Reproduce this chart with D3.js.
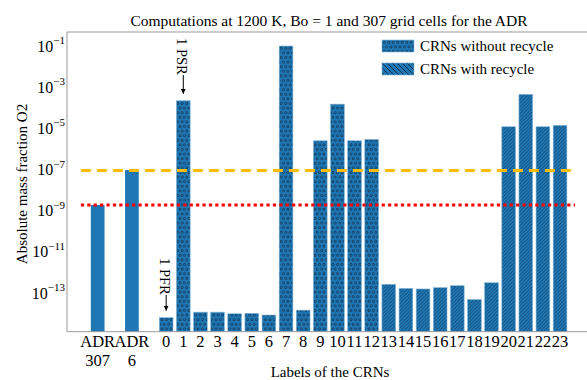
<!DOCTYPE html>
<html>
<head>
<meta charset="utf-8">
<script src="https://cdn.jsdelivr.net/npm/d3@7"></script>
<style>
  body { margin: 0; background: #fff; }
  text { font-family: "Liberation Serif", "DejaVu Serif", serif; }
</style>
</head>
<body>
<svg id="chart"></svg>
<script>
// bar data
var labels = ["ADR\n307", "ADR\n6", "0", "1", "2", "3", "4", "5", "6", "7", "8", "9", "10", "11", "12",
	"13", "14", "15", "16", "17", "18", "19", "20", "21", "22", "23"]
var positions = [-4, -2, 0, 1, 2, 3, 4, 5, 6, 7, 8, 9, 10, 11, 12, 13, 14, 15, 16, 17, 18, 19, 20, 21, 22, 23]
var values = [1.9e-9, 9.5e-8, 6.5e-15, 2.2e-4, 1.2e-14, 1.2e-14, 1.0e-14, 1.05e-14, 8.7e-15, 1.0e-1, 1.5e-14,
	2.5e-6, 1.5e-4, 2.5e-6, 2.9e-6, 2.7e-13, 1.7e-13, 1.6e-13, 1.85e-13, 2.3e-13, 4.9e-14, 3.2e-13,
	1.2e-5, 4.5e-4, 1.2e-5, 1.4e-5]
var kinds = ["adr", "adr", "without", "without", "without", "without", "without", "without", "without",
	"without", "without", "without", "without", "without", "without",
	"with", "with", "with", "with", "with", "with", "with", "with", "with", "with", "with"]
var yTicks = [-1, -3, -5, -7, -9, -11, -13]
var refLines = [{value: 9e-8, color: "#fbbc05", dash: "10,6"}, {value: 1.9e-9, color: "#ff0000", dash: "3.2,3.2"}]
var legendItems = [{label: "CRNs without recycle", kind: "without"}, {label: "CRNs with recycle", kind: "with"}]

var data = labels.map((l, i) => ({label: l, pos: positions[i], value: values[i], kind: kinds[i]}))

var width = 587
var height = 380
var margin = ({top: 32, left: 67, bottom: 331.7})

var x = d3.scaleLinear()
	.domain([-5.79, 24.79])
	.range([margin.left, 590.7])

var y = d3.scaleLog()
	.domain([Math.pow(10, -14.87), Math.pow(10, -0.32)])
	.range([margin.bottom, margin.top])

var barW = x(0.8) - x(0)
var blue = "#1f77b4"
var ink = "#10304d"

let svg = d3.select("#chart")
	.attr("width", width)
	.attr("height", height)
	.attr("viewBox", [0, 0, width, height])

// hatch patterns
var defs = svg.append("defs")
var dots = defs.append("pattern")
	.attr("id", "dots")
	.attr("patternUnits", "userSpaceOnUse")
	.attr("width", 9).attr("height", 9.2)
dots.append("rect").attr("width", 9).attr("height", 9.2).attr("fill", blue)
;[[2.25, 2.3], [6.75, 2.3], [0, 6.9], [4.5, 6.9], [9, 6.9]].forEach(c => {
	dots.append("circle")
		.attr("cx", c[0]).attr("cy", c[1]).attr("r", 1.1)
		.attr("fill", "none").attr("stroke", ink).attr("stroke-width", 0.8)
})

var diag = defs.append("pattern")
	.attr("id", "diag")
	.attr("patternUnits", "userSpaceOnUse")
	.attr("width", 3.5).attr("height", 3.5)
diag.append("rect").attr("width", 3.5).attr("height", 3.5).attr("fill", blue)
diag.append("path")
	.attr("d", "M-1,4.5 L4.5,-1 M-1,1 L1,-1 M2.5,4.5 L4.5,2.5")
	.attr("stroke", ink).attr("stroke-width", 0.6)

var back = defs.append("pattern")
	.attr("id", "back")
	.attr("patternUnits", "userSpaceOnUse")
	.attr("width", 5).attr("height", 5)
back.append("rect").attr("width", 5).attr("height", 5).attr("fill", blue)
back.append("path")
	.attr("d", "M-1,-1 L6,6 M-1,4 L1,6 M4,-1 L6,1")
	.attr("stroke", ink).attr("stroke-width", 1)

var fillFor = k => k === "without" ? "url(#dots)" : (k === "with" ? "url(#diag)" : blue)

// bars
svg.append("g")
	.selectAll("rect")
	.data(data)
	.join("rect")
	.attr("x", d => x(d.pos) - barW / 2)
	.attr("y", d => y(d.value))
	.attr("width", barW)
	.attr("height", d => margin.bottom - y(d.value))
	.attr("fill", d => fillFor(d.kind))
	.attr("stroke", d => d.kind === "adr" ? "none" : "#7fb3d8")
	.attr("stroke-width", 0.6)

// reference lines
svg.append("g")
	.selectAll("line")
	.data(refLines)
	.join("line")
	.attr("x1", x(-4.98))
	.attr("x2", x(23.87))
	.attr("y1", d => y(d.value))
	.attr("y2", d => y(d.value))
	.attr("stroke", d => d.color)
	.attr("stroke-width", 3)
	.attr("stroke-dasharray", d => d.dash)

// spines
var spine = "#999999"
svg.append("line").attr("x1", margin.left).attr("x2", margin.left)
	.attr("y1", margin.top).attr("y2", margin.bottom).attr("stroke", spine)
svg.append("line").attr("x1", margin.left).attr("x2", width)
	.attr("y1", margin.top).attr("y2", margin.top).attr("stroke", spine)
svg.append("line").attr("x1", margin.left).attr("x2", width)
	.attr("y1", margin.bottom).attr("y2", margin.bottom).attr("stroke", spine)

// y tick labels
var yt = svg.append("g")
	.selectAll("text")
	.data(yTicks)
	.join("text")
	.attr("x", 65)
	.attr("y", d => y(Math.pow(10, d)) + 5.5)
	.attr("text-anchor", "end")
	.attr("font-size", 16)
yt.append("tspan").text("10")
yt.append("tspan")
	.attr("dy", -7.5)
	.attr("font-size", 11)
	.text(d => "\u2212" + Math.abs(d))

// x tick labels
var xt = svg.append("g")
	.selectAll("text")
	.data(data)
	.join("text")
	.attr("x", d => x(d.pos))
	.attr("y", 347)
	.attr("text-anchor", "middle")
	.attr("font-size", 16.5)
xt.selectAll("tspan")
	.data(d => d.label.split("\n").map(s => ({s: s, px: x(d.pos)})))
	.join("tspan")
	.attr("x", t => t.px)
	.attr("dy", (t, i) => i === 0 ? 0 : 19)
	.text(t => t.s)

// axis labels and title
svg.append("text")
	.attr("x", 330).attr("y", 377)
	.attr("text-anchor", "middle")
	.attr("font-size", 15)
	.text("Labels of the CRNs")

svg.append("text")
	.attr("transform", "translate(27,184) rotate(-90)")
	.attr("text-anchor", "middle")
	.attr("font-size", 15)
	.text("Absolute mass fraction O2")

svg.append("text")
	.attr("x", 329).attr("y", 26)
	.attr("text-anchor", "middle")
	.attr("font-size", 15.5)
	.text("Computations at 1200 K, Bo = 1 and 307 grid cells for the ADR")

// annotations
svg.append("defs").append("marker")
	.attr("id", "arrow")
	.attr("viewBox", "0 0 10 10")
	.attr("refX", 10).attr("refY", 5)
	.attr("markerWidth", 5).attr("markerHeight", 5)
	.attr("orient", "auto")
	.append("path").attr("d", "M0,0 L10,5 L0,10 z").attr("fill", "#000")

function annotate(pos, value, label, top) {
	var cx = x(pos)
	svg.append("text")
		.attr("transform", `translate(${cx - 6.5},${top}) rotate(90)`)
		.attr("font-size", 14.5)
		.text(label)
	svg.append("line")
		.attr("x1", cx).attr("x2", cx)
		.attr("y1", top + 37).attr("y2", y(value) - 7)
		.attr("stroke", "#000").attr("stroke-width", 1)
		.attr("marker-end", "url(#arrow)")
}
annotate(1, values[3], "1 PSR", 38)
annotate(0, values[2], "1 PFR", 258)

// legend
var lg = svg.append("g")
	.selectAll("g")
	.data(legendItems)
	.join("g")
	.attr("transform", (d, i) => `translate(382,${40 + i * 23})`)
lg.append("rect")
	.attr("width", 32).attr("height", 12)
	.attr("fill", d => d.kind === "without" ? "url(#dots)" : "url(#back)")
	.attr("stroke", "#7fb3d8").attr("stroke-width", 0.6)
lg.append("text")
	.attr("x", 38).attr("y", 11)
	.attr("font-size", 15)
	.text(d => d.label)
</script>
</body>
</html>
